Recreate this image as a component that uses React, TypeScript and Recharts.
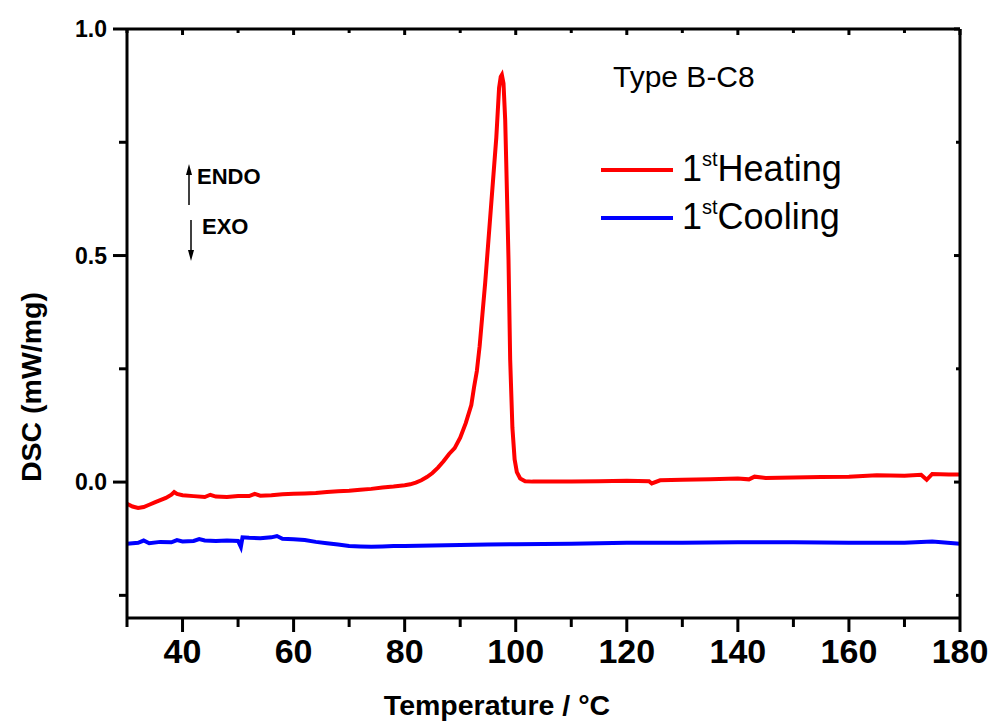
import React from "react";
import {
  LineChart,
  Line,
  XAxis,
  YAxis,
  Legend,
} from "recharts";

// 1st heating scan (temperature °C, DSC mW/mg)
const heatTemp = [
  30, 31, 32, 33, 34, 35, 36, 37, 38, 38.5, 39, 40, 42, 44, 45, 46, 48, 50, 52, 53,
  54, 56, 58, 60, 62, 64, 66, 68, 70, 72, 74, 76, 78, 80, 81, 82, 83, 84, 85, 86,
  87, 88, 89, 90, 91, 92, 92.5, 93, 93.5, 94, 94.5, 95, 95.5, 96, 96.5, 97, 97.3,
  97.5, 97.8, 98.1, 98.3, 98.7, 99, 99.4, 99.8, 100.2, 100.8, 101.7, 103, 105,
  110, 115, 120, 124, 124.5, 126, 130, 135, 140, 142, 143, 145, 150, 155, 160,
  165, 170, 173, 174, 175, 178, 180,
];
const heatDsc = [
  -0.048, -0.054, -0.057, -0.055, -0.05, -0.045, -0.04, -0.035, -0.028, -0.022,
  -0.026, -0.029, -0.031, -0.033, -0.028, -0.032, -0.033, -0.031, -0.031, -0.026,
  -0.03, -0.029, -0.027, -0.026, -0.025, -0.024, -0.022, -0.02, -0.019, -0.017,
  -0.015, -0.012, -0.01, -0.007, -0.005, -0.001, 0.004, 0.011, 0.02, 0.032, 0.046,
  0.062, 0.075, 0.098, 0.13, 0.17, 0.21, 0.245, 0.3, 0.37, 0.44, 0.52, 0.6, 0.68,
  0.76, 0.87, 0.895, 0.899, 0.88, 0.8, 0.7, 0.49, 0.27, 0.12, 0.05, 0.022, 0.008,
  0.002, 0.001, 0.001, 0.001, 0.002, 0.003, 0.002, -0.003, 0.004, 0.005, 0.006,
  0.008, 0.006, 0.012, 0.009, 0.01, 0.011, 0.012, 0.015, 0.014, 0.016, 0.005,
  0.018, 0.017, 0.017,
];

// 1st cooling scan
const coolTemp = [
  30, 32, 33, 34, 36, 38, 39, 40, 42, 43, 44, 46, 48, 50, 50.5, 50.8, 52, 54, 56,
  57, 58, 60, 62, 64, 66, 68, 70, 72, 74, 76, 78, 80, 85, 90, 95, 100, 110, 120,
  130, 140, 150, 160, 170, 175, 180,
];
const coolDsc = [
  -0.136, -0.134, -0.129, -0.135, -0.132, -0.133, -0.128, -0.131, -0.13, -0.126,
  -0.129, -0.13, -0.129, -0.13, -0.143, -0.122, -0.123, -0.124, -0.122, -0.119,
  -0.125, -0.126, -0.128, -0.132, -0.135, -0.138, -0.141, -0.142, -0.143, -0.142,
  -0.141, -0.141, -0.14, -0.139, -0.138, -0.137, -0.136, -0.134, -0.134, -0.133,
  -0.133, -0.134, -0.134, -0.131, -0.136,
];

const xTicks = [30, 40, 50, 60, 70, 80, 90, 100, 110, 120, 130, 140, 150, 160, 170, 180];
const yTicks = [-0.25, 0, 0.25, 0.5, 0.75, 1.0];

const heating = heatTemp.map((t, i) => ({ t, v: heatDsc[i] }));
const cooling = coolTemp.map((t, i) => ({ t, v: coolDsc[i] }));

const FONT = "'Liberation Sans', Arial, sans-serif";
const isMajorX = (v: number) => v % 20 === 0;
const isMajorY = (v: number) => Math.abs(v * 2 - Math.round(v * 2)) < 1e-6;

const BottomTick = (props: any) => {
  const { x, y, payload } = props;
  const major = isMajorX(payload.value);
  return (
    <g>
      <line x1={x} y1={y} x2={x} y2={y + (major ? 14 : 9)} stroke="#000" strokeWidth={3} />
      {major && (
        <text x={x} y={y + 45} textAnchor="middle" fontSize={34} fontWeight="bold" fontFamily={FONT} fill="#000">
          {payload.value}
        </text>
      )}
    </g>
  );
};

const TopTick = (props: any) => {
  const { x, y, payload } = props;
  const major = isMajorX(payload.value);
  return <line x1={x} y1={y} x2={x} y2={y + (major ? 6 : 4)} stroke="#000" strokeWidth={3} />;
};

const LeftTick = (props: any) => {
  const { x, y, payload } = props;
  const major = isMajorY(payload.value);
  return (
    <g>
      <line x1={x - (major ? 14 : 8)} y1={y} x2={x} y2={y} stroke="#000" strokeWidth={3} />
      {major && (
        <text x={x - 20} y={y + 8} textAnchor="end" fontSize={23} fontWeight="bold" fontFamily={FONT} fill="#000">
          {Number(payload.value).toFixed(1)}
        </text>
      )}
    </g>
  );
};

const RightTick = (props: any) => {
  const { x, y, payload } = props;
  const major = isMajorY(payload.value);
  return <line x1={x - (major ? 6 : 4)} y1={y} x2={x} y2={y} stroke="#000" strokeWidth={3} />;
};

const LegendBox = () => (
  <svg width={260} height={100} style={{ display: "block" }}>
    <line x1={6} y1={30} x2={78} y2={30} stroke="#ff0000" strokeWidth={4} />
    <text x={87} y={41} fontSize={36} fontFamily={FONT} fill="#000">
      1<tspan fontSize={20} dy={-15}>st</tspan>
      <tspan fontSize={36} dy={15}>Heating</tspan>
    </text>
    <line x1={6} y1={78} x2={78} y2={78} stroke="#0000ff" strokeWidth={4} />
    <text x={87} y={89} fontSize={36} fontFamily={FONT} fill="#000">
      1<tspan fontSize={20} dy={-15}>st</tspan>
      <tspan fontSize={36} dy={15}>Cooling</tspan>
    </text>
  </svg>
);

const axisLine = { stroke: "#000", strokeWidth: 3 };

export default function App() {
  return (
    <div style={{ position: "absolute", left: 0, top: 0, width: 994, height: 724, background: "#fff" }}>
      <LineChart width={994} height={724} margin={{ top: 9, right: 0, bottom: 0, left: 0 }}>
        <XAxis
          xAxisId="bottom"
          dataKey="t"
          type="number"
          domain={[30, 180]}
          ticks={xTicks}
          allowDataOverflow
          height={106}
          tickSize={0}
          tickMargin={0}
          tickLine={false}
          axisLine={axisLine}
          tick={BottomTick}
          interval={0}
        />
        <XAxis
          xAxisId="top"
          orientation="top"
          dataKey="t"
          type="number"
          domain={[30, 180]}
          ticks={xTicks}
          allowDataOverflow
          height={20}
          tickSize={0}
          tickMargin={0}
          tickLine={false}
          axisLine={axisLine}
          tick={TopTick}
          interval={0}
        />
        <YAxis
          yAxisId="left"
          type="number"
          domain={[-0.3, 1.0]}
          ticks={yTicks}
          allowDataOverflow
          width={127}
          tickSize={0}
          tickMargin={0}
          tickLine={false}
          axisLine={axisLine}
          tick={LeftTick}
          interval={0}
        />
        <YAxis
          yAxisId="right"
          orientation="right"
          type="number"
          domain={[-0.3, 1.0]}
          ticks={yTicks}
          allowDataOverflow
          width={34}
          tickSize={0}
          tickMargin={0}
          tickLine={false}
          axisLine={axisLine}
          tick={RightTick}
          interval={0}
        />
        <Line
          xAxisId="bottom"
          yAxisId="left"
          data={heating}
          dataKey="v"
          stroke="#ff0000"
          strokeWidth={4}
          dot={false}
          isAnimationActive={false}
        />
        <Line
          xAxisId="bottom"
          yAxisId="left"
          data={cooling}
          dataKey="v"
          stroke="#0000ff"
          strokeWidth={4}
          dot={false}
          isAnimationActive={false}
        />
        <Legend
          layout="vertical"
          align="center"
          verticalAlign="middle"
          content={LegendBox}
          wrapperStyle={{ position: "absolute", left: 595, top: 140, width: 260, height: 100 }}
        />
        <text x={613} y={87} fontSize={30} fontFamily={FONT} fill="#000">
          Type B-C8
        </text>
        <g fontFamily={FONT} fontWeight="bold" fontSize={22} fill="#000">
          <line x1={189} y1={205} x2={189} y2={172} stroke="#000" strokeWidth={1.5} />
          <polygon points="189,164 186,175 192,175" fill="#000" />
          <text x={197} y={184}>ENDO</text>
          <line x1={191} y1={220} x2={191} y2={252} stroke="#000" strokeWidth={1.5} />
          <polygon points="191,261 188,250 194,250" fill="#000" />
          <text x={202} y={234}>EXO</text>
        </g>
        <text x={497} y={715} textAnchor="middle" fontSize={28.5} fontWeight="bold" fontFamily={FONT} fill="#000">
          Temperature / °C
        </text>
        <text
          x={31}
          y={387}
          transform="rotate(-90 31 387)"
          textAnchor="middle"
          dominantBaseline="central"
          fontSize={28.5}
          fontWeight="bold"
          fontFamily={FONT}
          fill="#000"
        >
          DSC (mW/mg)
        </text>
      </LineChart>
    </div>
  );
}
